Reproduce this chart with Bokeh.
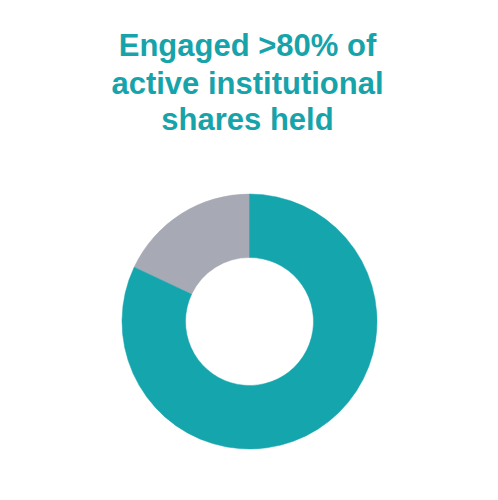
from bokeh.plotting import figure
from bokeh.models import Range1d, Label
from bokeh.embed import file_html
from bokeh.resources import INLINE
from math import pi

# Data
categories = ["Not engaged", "Engaged"]
shares = [18, 82]
colors = ["#A7A9B4", "#14A5AD"]
title_lines = ["Engaged >80% of", "active institutional", "shares held"]

W, H = 482, 484
p = figure(width=W, height=H, output_backend="svg", toolbar_location=None,
           x_range=Range1d(0, W), y_range=Range1d(0, H), min_border=0,
           outline_line_color=None)
p.axis.visible = False
p.grid.visible = False
p.background_fill_color = "white"
p.border_fill_color = "white"

cx, cy = 249, H - 321
total = sum(shares)
start = pi / 2
starts, ends = [], []
for v in shares:
    a = v / total * 2 * pi
    starts.append(start)
    ends.append(start + a)
    start += a

p.annular_wedge(x=[cx] * len(shares), y=[cy] * len(shares), inner_radius=64, outer_radius=127.5,
                start_angle=starts, end_angle=ends, fill_color=colors, line_color=colors,
                line_width=0.5)

baselines = [H - 44.5, H - 83, H - 118.5]
for txt, by in zip(title_lines, baselines):
    p.add_layout(Label(x=247, y=by, text=txt, text_align="center", text_baseline="alphabetic",
                       text_font="Liberation Sans", text_font_style="bold", text_font_size="31px",
                       text_color="#17A3AA"))

open("out.html", "w").write(file_html(p, INLINE))
